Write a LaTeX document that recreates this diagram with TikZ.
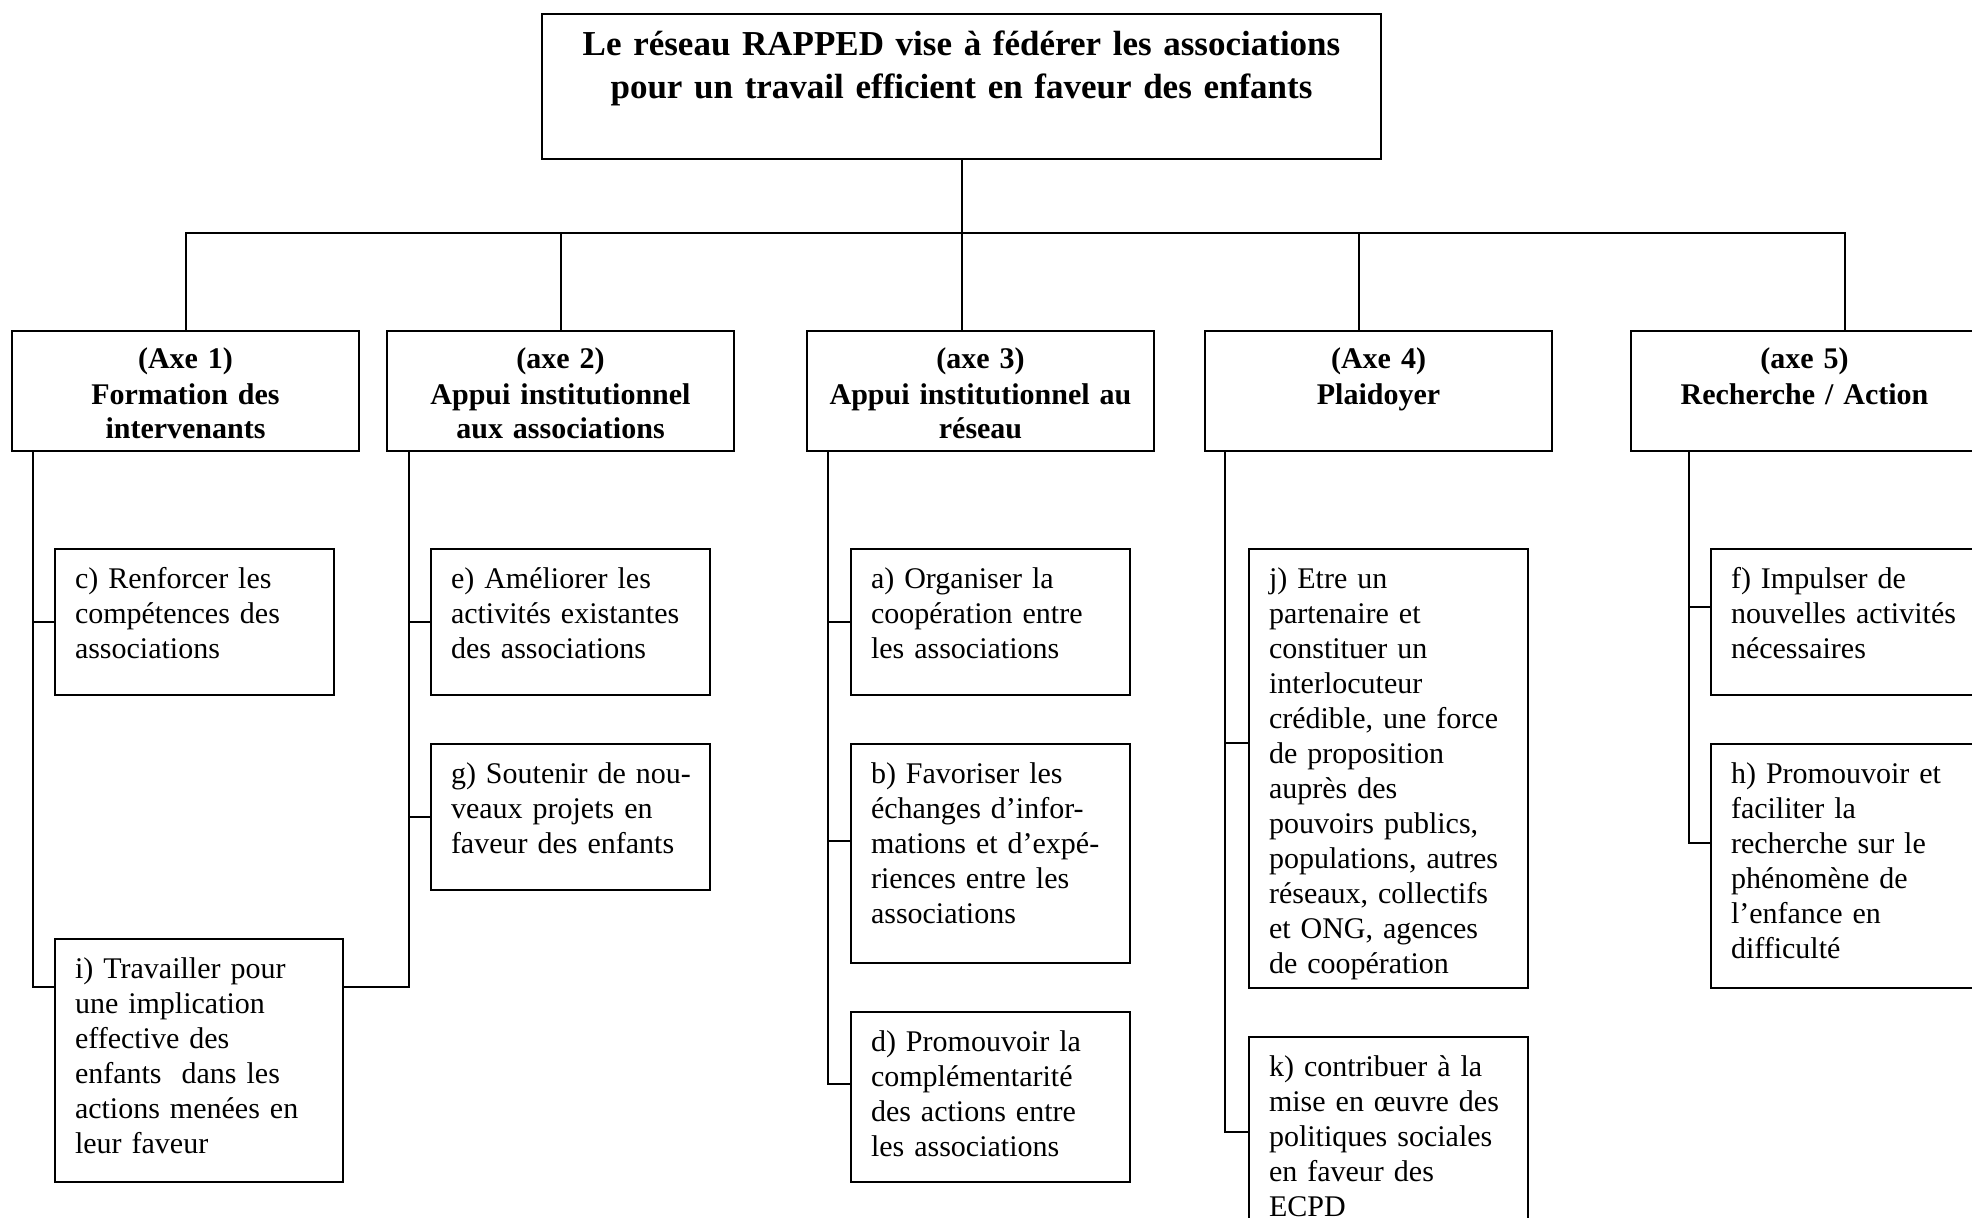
\documentclass[tikz,border=0pt]{standalone}
\usepackage{fontspec}
\setmainfont{Liberation Serif}
\usetikzlibrary{positioning}
\tikzset{
        treebox/.style={draw=black, line width=0.8pt, anchor=north west, inner sep=0pt},
        % Main goal
        node_goal/.style={treebox, align=center, text width=335.6pt, font=\fontsize{14}{17}\selectfont\bfseries, text height=16.8pt, text depth=41.2pt},
        % Axes
        node_axe/.style={treebox, align=center, text width=138.8pt, font=\fontsize{12}{14}\selectfont\bfseries, text height=15.2pt, text depth=32.8pt},
        % Objectives (depth sets the box height)
        node_obj/.style={treebox, align=left, inner xsep=8pt, text width=95.6pt, font=\fontsize{12}{14}\selectfont, text height=15.6pt, text depth=#1},
        link/.style={line width=0.8pt}
}
\begin{document}
\begin{tikzpicture}[x=0.4pt, y=-0.4pt]
    \useasboundingbox (0,0) rectangle (1972,1218);
    % top
    \node[node_goal] (goal) at (541,13) {Le réseau RAPPED vise à fédérer les associations\\pour un travail efficient en faveur des enfants};
    \coordinate (bus) at (961,233);
    % axes
    \node[node_axe] (ax1) at (11,330) {(Axe 1)\\Formation des\\intervenants};
    \node[node_axe] (ax2) at (386,330) {(axe 2)\\Appui institutionnel\\aux associations};
    \node[node_axe] (ax3) at (806,330) {(axe 3)\\Appui institutionnel au\\réseau};
    \node[node_axe] (ax4) at (1204,330) {(Axe 4)\\Plaidoyer};
    \node[node_axe] (ax5) at (1630,330) {(axe 5)\\Recherche / Action};
    % objectives
    \node[node_obj=42.8pt] (c) at (54,548) {c) Renforcer les\\compétences des\\associations};
    \node[node_obj=81.6pt, text width=99.2pt] (i) at (54,938) {i) Travailler pour\\une implication\\effective des\\enfants\ \ dans les\\actions menées en\\leur faveur};
    \node[node_obj=42.8pt] (e) at (430,548) {e) Améliorer les\\activités existantes\\des associations};
    \node[node_obj=42.8pt] (g) at (430,743) {\mbox{g) Soutenir de nou-}\\veaux projets en\\faveur des enfants};
    \node[node_obj=42.8pt] (a) at (850,548) {a) Organiser la\\coopération entre\\les associations};
    \node[node_obj=72pt] (b) at (850,743) {b) Favoriser les\\échanges d’infor-\\mations et d’expé-\\riences entre les\\associations};
    \node[node_obj=52.4pt] (d) at (850,1011) {d) Promouvoir la\\complémentarité\\des actions entre\\les associations};
    \node[node_obj=160pt] (j) at (1248,548) {j) Etre un\\partenaire et\\constituer un\\interlocuteur\\crédible, une force\\de proposition\\auprès des\\pouvoirs publics,\\populations, autres\\réseaux, collectifs\\et ONG, agences\\de coopération};
    \node[node_obj=66pt] (k) at (1248,1036) {k) contribuer à la\\mise en œuvre des\\politiques sociales\\en faveur des\\ECPD};
    \node[node_obj=42.8pt] (f) at (1710,548) {f) Impulser de\\nouvelles activités\\nécessaires};
    \node[node_obj=82pt] (h) at (1710,743) {h) Promouvoir et\\faciliter la\\recherche sur le\\phénomène de\\l’enfance en\\difficulté};
    % connectors from the top
    \draw[link] (goal.south) -- (goal.south |- ax3.north);
    \draw[link] (ax1.north) -- (ax1.north |- bus) -- ([xshift=16.2pt]ax5.north |- bus) -- ([xshift=16.2pt]ax5.north);
    \draw[link] (ax2.north) -- (ax2.north |- bus);
    \draw[link] ([xshift=-7.8pt]ax4.north) -- ([xshift=-7.8pt]ax4.north |- bus);
    % spines
    \coordinate (sp1) at ([xshift=8.8pt]ax1.south west);
    \coordinate (sp2) at ([xshift=9.2pt]ax2.south west);
    \coordinate (sp3) at ([xshift=8.8pt]ax3.south west);
    \coordinate (sp4) at ([xshift=8.4pt]ax4.south west);
    \coordinate (sp5) at ([xshift=23.6pt]ax5.south west);
    \draw[link] (sp1) |- ([yshift=-19.6pt]i.north west);
    \draw[link] (c.west) -- (c.west -| sp1);
    \draw[link] (sp2) |- ([yshift=-19.6pt]i.north east);
    \draw[link] (e.west) -- (e.west -| sp2);
    \draw[link] (g.west) -- (g.west -| sp2);
    \draw[link] (sp3) |- ([yshift=-29.2pt]d.north west);
    \draw[link] (a.west) -- (a.west -| sp3);
    \draw[link] ([yshift=-39.2pt]b.north west) -- ([yshift=-39.2pt]b.north west -| sp3);
    \draw[link] (sp4) |- ([yshift=-38.4pt]k.north west);
    \draw[link] ([yshift=-78pt]j.north west) -- ([yshift=-78pt]j.north west -| sp4);
    \draw[link] (sp5) |- ([yshift=-40pt]h.north west);
    \draw[link] ([yshift=-23.6pt]f.north west) -- ([yshift=-23.6pt]f.north west -| sp5);
\end{tikzpicture}
\end{document}
